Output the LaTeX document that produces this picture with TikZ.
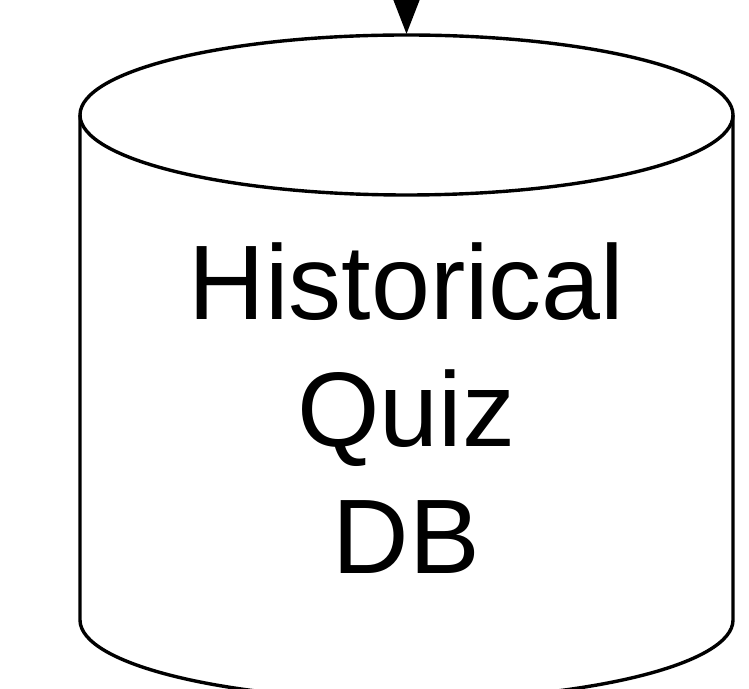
\documentclass[tikz,border=0pt]{standalone}
\usepackage{fontspec}
\setmainfont{Liberation Sans}
\usetikzlibrary{arrows.meta}
\begin{document}
\begin{tikzpicture}[x=1pt,y=1pt,
  cyl/.style={line width=3.4pt, line join=round},
  lbl/.style={font=\fontsize{106}{127}\selectfont, align=center, inner sep=0pt},
  conn/.style={line width=3.4pt, -{Triangle[width=30pt,length=40pt]}}]
\useasboundingbox (0,0) rectangle (749,688);
\begin{scope}
\clip (0,0) rectangle (749,688);
% cylinder
\draw[cyl] (406.5,573) ellipse [x radius=326.5, y radius=80];
\draw[cyl] (80,573) -- (80,68) arc [start angle=180, end angle=360, x radius=326.5, y radius=80] -- (733,573);
\coordinate (top) at (406.5,654);
\coordinate (src) at (406.5,760);
\draw[conn] (src) -- (top);
\end{scope}
\node[lbl] (db) at (406.5,279.5) {Historical\\Quiz\\DB};
\end{tikzpicture}
\end{document}
